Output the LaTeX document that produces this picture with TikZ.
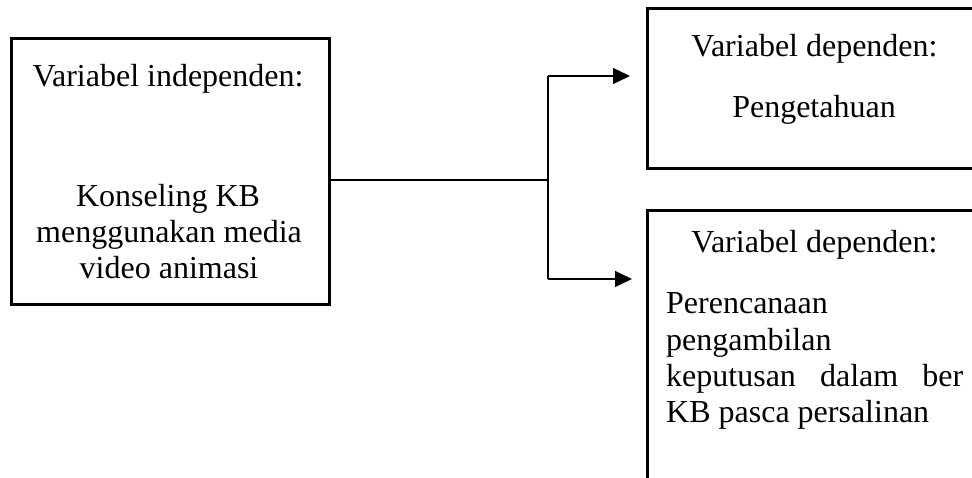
\documentclass[tikz,border=0pt]{standalone}
\usepackage{fontspec}
\setmainfont{Liberation Serif}
\usetikzlibrary{arrows.meta}
\begin{document}
\begin{tikzpicture}[x=1pt,y=-1pt,
  box/.style={draw, line width=2.6pt, anchor=north west, inner sep=0pt},
  lbl/.style={inner sep=0pt, anchor=base, font=\fontsize{32}{36}\selectfont},
  conn/.style={line width=1.3pt},
  arr/.style={conn, -{Triangle[length=17pt,width=16pt]}}]
\useasboundingbox (0,0) rectangle (972,478);
\clip (0,0) rectangle (972,478);
% boxes
\node[box, minimum width=318pt, minimum height=266pt] (L) at (10,37) {};
\node[box, minimum width=360pt, minimum height=160pt] (T) at (646,7) {};
\node[box, minimum width=360pt, minimum height=320pt] (B) at (646,209) {};
% texts
\node[lbl] (l1) at (168,87) {Variabel independen:};
\node[lbl] (l2) at (168,207) {Konseling KB};
\node[lbl] (l3) at (169,243) {menggunakan media};
\node[lbl] (l4) at (169,279) {video animasi};
\node[lbl] (t1) at (814.5,57) {Variabel dependen:};
\node[lbl] (t2) at (814,118) {Pengetahuan};
\node[lbl] (b1) at (814.5,253) {Variabel dependen:};
\node[lbl, anchor=base west] (b2) at (666,314) {Perencanaan};
\node[lbl, anchor=base west] (b3) at (666,350) {pengambilan};
\node[lbl, anchor=base west] (b4) at (666,386) {\hbox to 297pt{keputusan\hfill dalam\hfill ber}};
\node[lbl, anchor=base west] (b5) at (666,422) {KB pasca persalinan};
% connectors
\coordinate (j) at (548,180);
\coordinate (jt) at (548,76);
\coordinate (jb) at (548,279);
\draw[conn] (L.east |- j) -- (j);
\draw[conn] (jt) -- (jb);
\draw[arr, shorten >=16pt] (jt) -- (T.west |- jt);
\draw[arr, shorten >=14pt] (jb) -- (B.west |- jb);
\end{tikzpicture}
\end{document}
